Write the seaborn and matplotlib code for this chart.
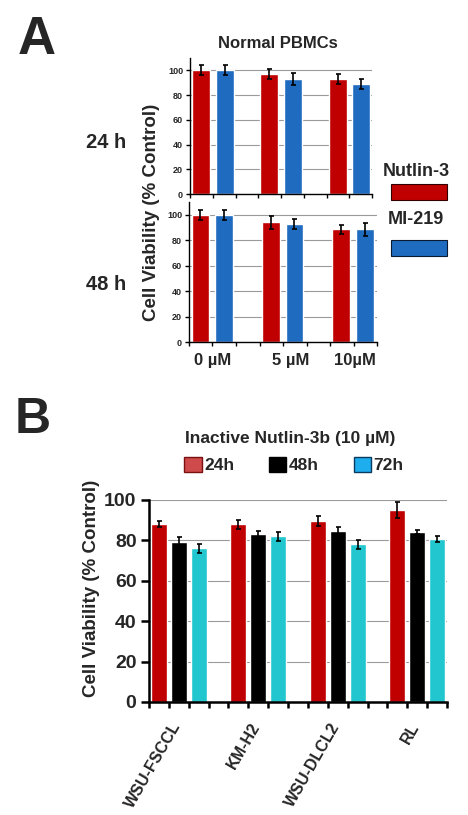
import numpy as np
import pandas as pd
import matplotlib
matplotlib.use("Agg")
import matplotlib.pyplot as plt
import matplotlib.transforms as mtrans
import seaborn as sns
from matplotlib.patches import Rectangle, Patch
from matplotlib.ticker import FixedLocator

# panel A: normal PBMCs
doses = ["0 µM", "5 µM", "10µM"]
drugs = ["Nutlin-3", "MI-219"]
nutlin_24h = [100, 97, 93]
nutlin_24h_err = [4, 4, 4]
mi219_24h = [100, 93, 89]
mi219_24h_err = [4, 4.5, 4]
nutlin_48h = [100, 94, 88.5]
nutlin_48h_err = [4, 5, 3.5]
mi219_48h = [100, 93, 88.5]
mi219_48h_err = [4, 4, 5]

# panel B: inactive Nutlin-3b
cell_lines = ["WSU-FSCCL", "KM-H2", "WSU-DLCL2", "RL"]
times = ["24h", "48h", "72h"]
via_24h = [88, 88, 89.5, 95]
via_24h_err = [1.5, 2.3, 2.5, 4]
via_48h = [79, 83, 84.5, 84]
via_48h_err = [2.5, 1.8, 2.2, 1]
via_72h = [76, 82, 78, 80.5]
via_72h_err = [2.3, 2.3, 2.2, 1.5]

RED = "#C00000"
BLUE = "#1F6BBF"
CYAN = "#22C6CF"

sns.set_style("white")
plt.rcParams["font.family"] = ["Liberation Sans Narrow", "Liberation Sans", "DejaVu Sans"]
plt.rcParams["font.weight"] = "bold"


def long_df(cats, cat_name, hue_name, series):
    rows = []
    for lvl, vals in series.items():
        for c, v in zip(cats, vals):
            rows.append({cat_name: c, hue_name: lvl, "value": v})
    return pd.DataFrame(rows)


def add_errs(ax, errs):
    for cont, err in zip(ax.containers, errs):
        xs = [b.get_x() + b.get_width() / 2 for b in cont]
        ys = [b.get_height() for b in cont]
        ax.errorbar(xs, ys, yerr=err, fmt="none", ecolor="black",
                    elinewidth=1.2, capsize=1.8, capthick=1.2, zorder=5)


def style_axis(ax, xlim, ylim, n_minor, lw, tick_fs):
    ax.set_xlim(*xlim)
    ax.set_ylim(*ylim)
    ax.set_xlabel("")
    ax.set_ylabel("")
    for s in ["top", "right"]:
        ax.spines[s].set_visible(False)
    for s in ["left", "bottom"]:
        ax.spines[s].set_color("black")
        ax.spines[s].set_linewidth(lw)
    ax.yaxis.grid(True, color="#9a9a9a", lw=0.8)
    ax.set_axisbelow(True)
    ax.xaxis.set_minor_locator(FixedLocator(np.linspace(xlim[0], xlim[1], n_minor + 1)))
    ax.tick_params(axis="x", which="major", length=0)
    ax.tick_params(axis="x", which="minor", direction="out", length=3, width=lw, color="black", bottom=True)
    ax.tick_params(axis="y", direction="out", length=3, width=lw, color="black", left=True,
                   labelsize=tick_fs, pad=2)
    for t in ax.get_yticklabels():
        t.set_fontweight("bold")


fig = plt.figure(figsize=(4.68, 8.15), dpi=100)

# ---- panel A top (24 h)
ax1 = fig.add_axes([190 / 468, 1 - 194 / 815, 182 / 468, 136 / 815])
df1 = long_df(doses, "dose", "drug", {"Nutlin-3": nutlin_24h, "MI-219": mi219_24h})
sns.barplot(data=df1, x="dose", y="value", hue="drug", palette=[RED, BLUE],
            width=0.69, gap=0.24, errorbar=None, legend=False, ax=ax1, saturation=1)
add_errs(ax1, [nutlin_24h_err, mi219_24h_err])
ax1.set_yticks(range(0, 101, 20))
style_axis(ax1, (-0.335, 2.33), (0, 110), 8, 1.0, 6.5)
ax1.set_xticklabels([])

# ---- panel A bottom (48 h)
ax2 = fig.add_axes([189 / 468, 1 - 342 / 815, 188 / 468, 140 / 815])
df2 = long_df(doses, "dose", "drug", {"Nutlin-3": nutlin_48h, "MI-219": mi219_48h})
sns.barplot(data=df2, x="dose", y="value", hue="drug", palette=[RED, BLUE],
            width=0.67, gap=0.25, errorbar=None, legend=False, ax=ax2, saturation=1)
add_errs(ax2, [nutlin_48h_err, mi219_48h_err])
ax2.set_yticks(range(0, 101, 20))
style_axis(ax2, (-0.33, 2.34), (0, 110), 8, 1.0, 6.5)
ax2.set_xticks(range(len(doses)))
ax2.set_xticklabels(doses, fontsize=12, fontweight="bold")
ax2.tick_params(axis="x", which="major", pad=8)
# labels in the original sit a little right of the bar pairs
for lab, dx in zip(ax2.get_xticklabels(), [0, 8, 2]):
    lab.set_transform(lab.get_transform() + mtrans.ScaledTranslation(dx / 100, 0, fig.dpi_scale_trans))

fig.text(37 / 468, 1 - 40 / 815, "A", fontsize=38, fontweight="bold",
         ha="center", va="center", family=["Liberation Sans", "DejaVu Sans"])
fig.text(278 / 468, 1 - 43 / 815, "Normal PBMCs", fontsize=12, fontweight="bold",
         ha="center", va="center")
fig.text(106 / 468, 1 - 142 / 815, "24 h", fontsize=14.5, fontweight="bold", ha="center", va="center")
fig.text(106 / 468, 1 - 285 / 815, "48 h", fontsize=14.5, fontweight="bold", ha="center", va="center")
fig.text(151 / 468, 1 - 212 / 815, "Cell Viability (% Control)", fontsize=13.5,
         fontweight="bold", rotation=90, ha="center", va="center")

# legend for panel A
fig.text(416 / 468, 1 - 171 / 815, drugs[0], fontsize=13, fontweight="bold", ha="center", va="center")
fig.text(416 / 468, 1 - 220 / 815, drugs[1], fontsize=13, fontweight="bold", ha="center", va="center")
fig.add_artist(Rectangle((391 / 468, 1 - 200 / 815), 56 / 468, 16 / 815, transform=fig.transFigure,
                         facecolor=RED, edgecolor="#300000", lw=0.8))
fig.add_artist(Rectangle((391 / 468, 1 - 256 / 815), 56 / 468, 16 / 815, transform=fig.transFigure,
                         facecolor=BLUE, edgecolor="#0a1a30", lw=0.8))

# ---- panel B
ax3 = fig.add_axes([149 / 468, 1 - 702 / 815, 298 / 468, 202 / 815])
df3 = long_df(cell_lines, "line", "time", {"24h": via_24h, "48h": via_48h, "72h": via_72h})
sns.barplot(data=df3, x="line", y="value", hue="time", palette=[RED, "black", CYAN],
            width=0.756, gap=0.2, errorbar=None, legend=False, ax=ax3, saturation=1)
add_errs(ax3, [via_24h_err, via_48h_err, via_72h_err])
ax3.set_yticks(range(0, 101, 20))
style_axis(ax3, (-0.378, 3.378), (0, 100), 15, 1.8, 14)
ax3.tick_params(axis="y", length=6, pad=3)
ax3.tick_params(axis="x", which="minor", length=4)
ax3.set_xticks(range(len(cell_lines)))
ax3.set_xticklabels(cell_lines, fontsize=11.5, fontweight="bold", rotation=60,
                    ha="right", rotation_mode="anchor")
ax3.tick_params(axis="x", which="major", pad=13)
for lab in ax3.get_xticklabels():
    lab.set_transform(lab.get_transform() + mtrans.ScaledTranslation(-8 / 100, 0, fig.dpi_scale_trans))

fig.text(33 / 468, 1 - 420 / 815, "B", fontsize=36, fontweight="bold",
         ha="center", va="center", family=["Liberation Sans", "DejaVu Sans"])
fig.text(290 / 468, 1 - 438 / 815, "Inactive Nutlin-3b (10 µM)", fontsize=12.5,
         fontweight="bold", ha="center", va="center")
fig.text(92 / 468, 1 - 588 / 815, "Cell Viability (% Control)", fontsize=13.5,
         fontweight="bold", rotation=90, ha="center", va="center")

handles = [Patch(facecolor="#CF4A4A", edgecolor="#7a1010"),
           Patch(facecolor="black", edgecolor="black"),
           Patch(facecolor="#1EAEEE", edgecolor="#0a3a60")]
fig.legend(handles, times, loc="center", bbox_to_anchor=(294 / 468, 1 - 465 / 815),
           ncol=3, frameon=False, handlelength=1.0, handleheight=1.0,
           handletextpad=0.15, columnspacing=2.0, prop={"weight": "bold", "size": 12.5})

fig.savefig("out.png", dpi=100)
